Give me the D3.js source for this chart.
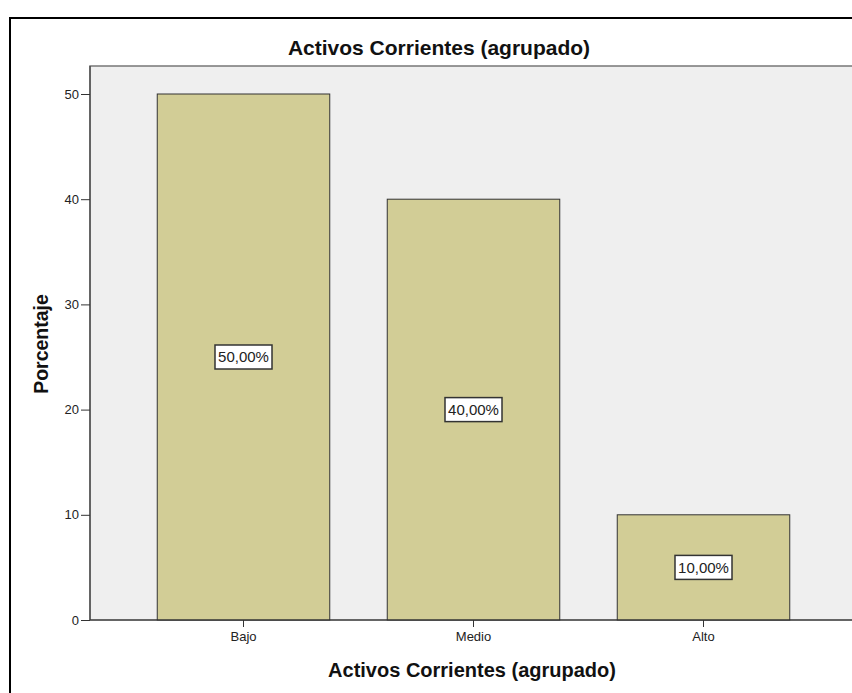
<!DOCTYPE html>
<html>
<head>
<meta charset="utf-8">
<script src="https://cdn.jsdelivr.net/npm/d3@7"></script>
<style>
	body { margin: 0; background: #fff; }
	text { font-family: "Liberation Sans", Arial, sans-serif; }
</style>
</head>
<body>
<svg id="chart" width="852" height="693"></svg>
<script>
//Chart data.
var categories = ["Bajo", "Medio", "Alto"];
var percentages = [50, 40, 10];
var barLabels = ["50,00%", "40,00%", "10,00%"];
var yTicks = [0, 10, 20, 30, 40, 50];

var svg = d3.select("#chart");

//Outer frame, cut off at the right and bottom like the original.
svg.append("rect")
	.attr("x", 10)
	.attr("y", 18)
	.attr("width", 900)
	.attr("height", 800)
	.attr("fill", "#fff")
	.attr("stroke", "#000")
	.attr("stroke-width", 2);

var plot = {left: 90, top: 66, right: 860, bottom: 620};

var x = d3.scaleBand()
	.domain(categories)
	.range([128.5, 818.5])
	.paddingInner(0.25)
	.paddingOuter(0.125);

var y = d3.scaleLinear()
	.domain([0, 50])
	.range([plot.bottom, 94]);

//Plot background.
svg.append("rect")
	.attr("x", plot.left)
	.attr("y", plot.top)
	.attr("width", plot.right - plot.left)
	.attr("height", plot.bottom - plot.top)
	.attr("fill", "#efefef")
	.attr("stroke", "#777")
	.attr("stroke-width", 1.5);

//Bars.
svg.selectAll(".bar")
	.data(percentages)
	.enter()
	.append("rect")
	.attr("class", "bar")
	.attr("x", function(d, i){ return x(categories[i]); })
	.attr("y", function(d){ return y(d); })
	.attr("width", x.bandwidth())
	.attr("height", function(d){ return y(0) - y(d); })
	.attr("fill", "#d2cd96")
	.attr("stroke", "#333")
	.attr("stroke-width", 1);

//Y axis.
var yAxis = svg.append("g")
	.attr("transform", "translate(" + plot.left + ",0)")
	.call(d3.axisLeft(y).tickValues(yTicks).tickSize(9).tickPadding(2));
yAxis.select(".domain").attr("stroke", "#333").attr("d", "M0," + plot.top + "V" + plot.bottom);
yAxis.selectAll(".tick line").attr("stroke", "#333");
yAxis.selectAll(".tick text").attr("font-size", 13).attr("fill", "#222")
	.attr("font-family", "Liberation Sans, Arial, sans-serif");

//X axis.
var xAxis = svg.append("g")
	.attr("transform", "translate(0," + plot.bottom + ")")
	.call(d3.axisBottom(x).tickSize(7).tickPadding(5));
xAxis.select(".domain").attr("stroke", "#333").attr("d", "M" + plot.left + ",0H" + plot.right);
xAxis.selectAll(".tick line").attr("stroke", "#333");
xAxis.selectAll(".tick text").attr("font-size", 13).attr("fill", "#222")
	.attr("font-family", "Liberation Sans, Arial, sans-serif");

//Value labels in boxes at half height.
var labels = svg.selectAll(".lbl")
	.data(percentages)
	.enter()
	.append("g")
	.attr("class", "lbl")
	.attr("transform", function(d, i){
		return "translate(" + (x(categories[i]) + x.bandwidth() / 2) + "," + y(d / 2) + ")";
	});

labels.append("rect")
	.attr("x", -28.5)
	.attr("y", -12)
	.attr("width", 57)
	.attr("height", 24)
	.attr("fill", "#fff")
	.attr("stroke", "#333")
	.attr("stroke-width", 1.5);

labels.append("text")
	.attr("text-anchor", "middle")
	.attr("dy", "0.36em")
	.attr("font-size", 15)
	.attr("fill", "#222")
	.text(function(d, i){ return barLabels[i]; });

//Titles.
svg.append("text")
	.attr("x", 439)
	.attr("y", 55)
	.attr("text-anchor", "middle")
	.attr("font-size", 21)
	.attr("font-weight", "bold")
	.attr("fill", "#111")
	.text("Activos Corrientes (agrupado)");

svg.append("text")
	.attr("x", 472)
	.attr("y", 677)
	.attr("text-anchor", "middle")
	.attr("font-size", 20)
	.attr("font-weight", "bold")
	.attr("fill", "#111")
	.text("Activos Corrientes (agrupado)");

svg.append("text")
	.attr("transform", "translate(48,344) rotate(-90)")
	.attr("text-anchor", "middle")
	.attr("font-size", 19.5)
	.attr("font-weight", "bold")
	.attr("fill", "#111")
	.text("Porcentaje");
</script>
</body>
</html>
